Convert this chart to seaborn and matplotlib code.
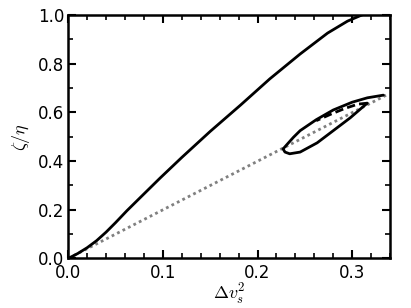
import numpy as np
import pandas as pd
import matplotlib
matplotlib.use("Agg")
import matplotlib.pyplot as plt
import seaborn as sns
from matplotlib.ticker import MultipleLocator

# ---------------- Data ----------------
main_x = [0.0, 0.010, 0.020, 0.030, 0.040, 0.050, 0.062, 0.080, 0.097, 0.120, 0.150,
          0.182, 0.213, 0.245, 0.274, 0.295, 0.310, 0.318]
main_y = [0.0, 0.020, 0.044, 0.073, 0.108, 0.147, 0.196, 0.265, 0.330, 0.415, 0.522,
          0.630, 0.738, 0.840, 0.926, 0.975, 1.000, 1.012]

upper_x = [0.227, 0.232, 0.238, 0.245, 0.262, 0.280, 0.300, 0.316, 0.333]
upper_y = [0.450, 0.472, 0.498, 0.525, 0.570, 0.610, 0.642, 0.660, 0.671]

lower_x = [0.227, 0.229, 0.234, 0.245, 0.263, 0.280, 0.298, 0.312, 0.316]
lower_y = [0.450, 0.437, 0.430, 0.437, 0.475, 0.525, 0.578, 0.625, 0.638]

dash_x = [0.316, 0.306, 0.292, 0.277, 0.262]
dash_y = [0.638, 0.634, 0.616, 0.592, 0.566]

ref_x = [0.0, 0.338]
ref_y = [0.0, 0.675]

# ---------------- Plot ----------------
sns.set_style("ticks", {"axes.edgecolor": "black", "text.color": "black",
                        "xtick.color": "black", "ytick.color": "black",
                        "axes.labelcolor": "black"})
plt.rcParams["font.family"] = ["DejaVu Sans"]
plt.rcParams["mathtext.fontset"] = "cm"

fig = plt.figure(figsize=(4.11, 3.08), dpi=100)
ax = fig.add_axes([0.166, 0.161, 0.783, 0.79])

sns.lineplot(x=ref_x, y=ref_y, ax=ax, sort=False, estimator=None,
             color="gray", linestyle=(0, (1, 1.2)), linewidth=2)
sns.lineplot(x=main_x, y=main_y, ax=ax, sort=False, estimator=None,
             color="black", linewidth=2)
sns.lineplot(x=upper_x, y=upper_y, ax=ax, sort=False, estimator=None,
             color="black", linewidth=2)
sns.lineplot(x=lower_x, y=lower_y, ax=ax, sort=False, estimator=None,
             color="black", linewidth=2)
sns.lineplot(x=dash_x, y=dash_y, ax=ax, sort=False, estimator=None,
             color="black", linewidth=2, linestyle=(0, (3, 1.5)))

ax.set_xlim(0, 0.34)
ax.set_ylim(0, 1.0)
ax.xaxis.set_major_locator(MultipleLocator(0.1))
ax.xaxis.set_minor_locator(MultipleLocator(0.02))
ax.yaxis.set_major_locator(MultipleLocator(0.2))
ax.yaxis.set_minor_locator(MultipleLocator(0.1))
ax.tick_params(which="both", direction="in", top=True, right=True, labelsize=12,
               colors="black")
ax.tick_params(which="major", length=6, width=1.5)
ax.tick_params(which="minor", length=3.5, width=1.2)
ax.tick_params(axis="x", which="major", pad=4)
ax.tick_params(axis="y", which="major", pad=3)
for s in ax.spines.values():
    s.set_linewidth(1.8)
    s.set_color("black")

ax.set_xlabel(r"$\Delta v_s^2$", fontsize=13, labelpad=0)
ax.set_ylabel(r"$\zeta/\eta$", fontsize=13, labelpad=4)

plt.savefig("out.png", dpi=100)
